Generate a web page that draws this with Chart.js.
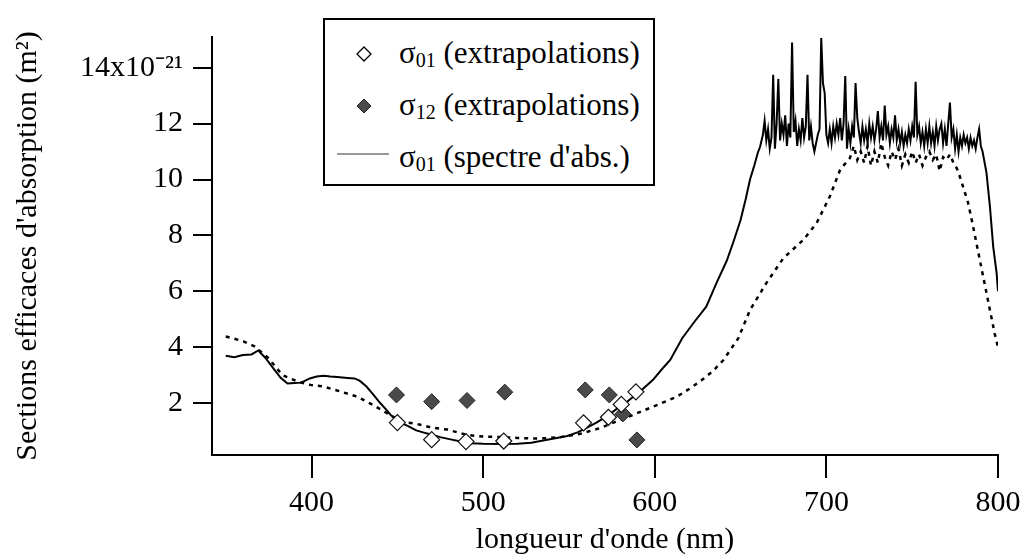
<!DOCTYPE html>
<html>
<head>
<meta charset="utf-8">
<script src="https://cdn.jsdelivr.net/npm/chart.js@4.4.1/dist/chart.umd.min.js"></script>
<style>
  body { margin: 0; background: #fff; }
  #wrap { position: relative; width: 1021px; height: 558px; }
  #legend { position: absolute; left: 323px; top: 18px; width: 328px; height: 164px; border: 2px solid #000; background: #fff;
            font-family: 'Liberation Serif', 'Times New Roman', serif; font-size: 31px; color: #000; }
  #legend .row { position: absolute; left: 74px; height: 36px; line-height: 36px; white-space: nowrap; }
  #legend sub { font-size: 20px; position: relative; top: 4px; vertical-align: baseline; }
  #legend svg { position: absolute; }
</style>
</head>
<body>
<div id="wrap">
  <canvas id="c" width="1021" height="558"></canvas>
  <div id="legend">
    <svg style="left:30px; top:25px" width="18" height="18"><polygon points="9,2 16,9 9,16 2,9" fill="#fff" stroke="#000" stroke-width="1.3"/></svg>
    <div class="row" style="top:15px">σ<sub>01</sub> (extrapolations)</div>
    <svg style="left:30px; top:77px" width="18" height="18"><polygon points="9,2 16,9 9,16 2,9" fill="#4a4a4a" stroke="#222" stroke-width="1"/></svg>
    <div class="row" style="top:67px">σ<sub>12</sub> (extrapolations)</div>
    <svg style="left:10px; top:129px" width="56" height="10"><line x1="2" y1="5" x2="54" y2="5" stroke="#333" stroke-width="1.2"/></svg>
    <div class="row" style="top:119px">σ<sub>01</sub> (spectre d'abs.)</div>
  </div>
</div>
<script>
// axis ticks
const xTicks = [400, 500, 600, 700, 800];
const yTicks = [2, 4, 6, 8, 10, 12, 14];

// sigma01 absorption spectrum (solid), smooth part then the noisy plateau
const specX = [350,355,360,365,369,373,377,382,386,390,394,399,403,407,411,415,421,425,428,432,436,440,443,446,450,452,456,461,465,469,475,481,487,493,500,510,520,528,535,542,549,555,560,566,572,578,583,588,593,599,604,609,616,623,630,636,642,646,650,653,655.5,658,660,661.4,
  663,664,665,666,667,668,669,670,671,672,673,674,675,676,677,678,679,680,681,682,683,684,685,686,687,688,689,690,691,692,693,694,695,696,697,698,699,700,
  701,702,703,704,705,706,707,708,709,710,711,712,713,714,715,716,717,718,719,720,721,722,723,724,725,726,727,728,729,730,731,732,733,734,735,736,737,738,739,740,
  741,742,743,744,745,746,747,748,749,750,751,752,753,754,755,756,757,758,759,760,761,762,763,764,765,766,767,768,769,770,771,772,773,774,775,776,777,778,779,780,
  781,782,783,784,785,786,787,788,789,790,791,793.3,795.3,797.2,799.2,800];
const specY = [3.69,3.64,3.72,3.74,3.88,3.62,3.3,2.9,2.7,2.72,2.73,2.88,2.95,2.98,2.95,2.93,2.9,2.88,2.8,2.59,2.3,2.0,1.8,1.58,1.38,1.29,1.18,1.02,0.95,0.88,0.78,0.7,0.62,0.56,0.54,0.53,0.54,0.58,0.66,0.74,0.82,0.95,1.1,1.3,1.52,1.8,2.0,2.25,2.5,2.83,3.2,3.54,4.32,4.9,5.45,6.3,7.1,7.8,8.55,9.3,10.0,10.5,10.95,11.18,
  11.6,12.1,11.4,11.8,11.1,11.5,13.75,11.1,12.0,13.6,11.4,12.0,11.6,12.3,11.2,12.0,11.5,14.9,11.7,12.1,11.2,11.8,11.4,12.2,11.5,11.9,13.75,11.4,11.9,11.3,11.0,11.3,11.6,11.8,15.06,13.45,13.1,11.6,
  11.3,11.8,11.3,11.9,11.5,12.0,11.6,12.2,11.4,12.0,13.7,11.1,11.8,11.3,11.9,11.5,13.45,12.2,11.7,11.3,11.9,11.4,11.8,11.3,12.0,11.5,11.9,11.4,11.8,12.45,11.5,11.9,11.4,12.65,11.6,11.9,11.3,11.8,11.5,12.3,
  11.4,11.8,11.3,11.7,11.2,11.6,11.3,11.8,11.4,11.9,11.5,13.5,11.6,11.9,11.3,11.7,11.2,11.8,11.3,11.9,11.3,11.7,11.2,11.9,11.4,11.8,12.0,11.3,11.8,11.2,12.0,12.75,11.5,11.8,11.1,11.6,11.0,11.5,11.2,11.6,
  11.3,11.5,11.1,11.5,11.2,11.4,11.1,11.5,11.8,11.2,11.0,10.24,9.03,7.6,6.65,6.0];

// dotted curve
const dotX = [350,355,360.6,367,375,383,392,399.4,407,417,426.6,434,444,452,461.5,470,479,490.6,500,510,520,529,537,545,556.6,568,576,587.5,599,612.9,620,627.6,634,640,648.7,655.5,665,675,686.6,694.3,702,708,713.7,716,718,720,722,724,726,728,730,732,734,736,738,740,742,744,746,748,750,752,754,756,758,760,762,764,766,768,770,772,774,776,777.8,782.6,785.5,789.4,793.3,798,800];
const dotY = [4.38,4.3,4.2,4.02,3.6,3.0,2.77,2.65,2.59,2.41,2.23,1.99,1.64,1.34,1.25,1.12,1.05,0.86,0.8,0.78,0.75,0.73,0.74,0.78,0.9,1.1,1.3,1.58,1.87,2.23,2.5,2.83,3.15,3.54,4.32,5.33,6.29,7.19,7.84,8.44,9.39,10.35,10.77,11.2,10.7,11.0,10.6,11.2,10.5,11.0,10.6,11.3,10.8,10.5,11.0,10.7,11.1,10.5,10.9,10.6,11.0,10.6,10.9,10.5,10.8,11.0,10.7,10.9,10.3,10.8,10.7,10.9,10.6,10.4,10.1,9.16,8.32,7.12,5.94,4.5,4.0];

// extrapolated points
const s01X = [450, 470, 490, 512, 558.5, 573, 580.5, 589];
const s01Y = [1.30, 0.69, 0.62, 0.64, 1.29, 1.49, 1.95, 2.40];
const s12X = [449.5, 470, 490.6, 512.6, 559.5, 573.5, 581.4, 589.6];
const s12Y = [2.29, 2.05, 2.09, 2.39, 2.47, 2.29, 1.61, 0.68];

const pts = (xs, ys) => xs.map((x, i) => ({ x: x, y: ys[i] }));
const serif = "'Liberation Serif', 'Times New Roman', serif";

new Chart(document.getElementById('c'), {
  type: 'scatter',
  data: {
    datasets: [
      { label: 's01 extrap', data: pts(s01X, s01Y), pointStyle: 'rectRot', pointRadius: 8, backgroundColor: '#fff', borderColor: '#111', borderWidth: 1.2 },
      { label: 's12 extrap', data: pts(s12X, s12Y), pointStyle: 'rectRot', pointRadius: 8, backgroundColor: '#4a4a4a', borderColor: '#222', borderWidth: 1 },
      { label: 'spectre', data: pts(specX, specY), showLine: true, borderColor: '#000', borderWidth: 2, pointRadius: 0, tension: 0 },
      { label: 'dotted', data: pts(dotX, dotY), showLine: true, borderColor: '#000', borderWidth: 2.5, borderDash: [4, 5], pointRadius: 0, tension: 0 }
    ]
  },
  options: {
    responsive: false, animation: false,
    layout: { padding: { top: 37, right: 23, left: 0, bottom: 0 } },
    plugins: { legend: { display: false }, tooltip: { enabled: false } },
    scales: {
      x: {
        min: 342, max: 800,
        afterFit: s => { s.height = 103; },
        afterBuildTicks: s => { s.ticks = xTicks.map(v => ({ value: v })); },
        border: { display: true, color: '#000', width: 2 },
        grid: { drawOnChartArea: false, drawTicks: true, tickLength: 23, color: '#000', lineWidth: 2 },
        ticks: { color: '#000', padding: 0, maxRotation: 0, font: { family: serif, size: 30, lineHeight: 1.7 } },
        title: { display: true, text: "longueur d'onde (nm)", color: '#000', padding: { top: 0, bottom: 0 }, font: { family: serif, size: 30 } }
      },
      y: {
        min: 0.14, max: 15.1,
        afterFit: s => { s.width = 212; },
        afterBuildTicks: s => { s.ticks = yTicks.map(v => ({ value: v })); },
        border: { display: true, color: '#000', width: 2 },
        grid: { drawOnChartArea: false, drawTicks: true, tickLength: 19, color: '#000', lineWidth: 2 },
        ticks: { color: '#000', padding: 10, font: { family: serif, size: 30 },
                 callback: v => v === 14 ? '14x10⁻²¹' : String(v) },
        title: { display: true, text: "Sections efficaces d'absorption (m²)", color: '#000', padding: { top: 10, bottom: 0 }, font: { family: serif, size: 30 } }
      }
    }
  }
});
</script>
</body>
</html>
